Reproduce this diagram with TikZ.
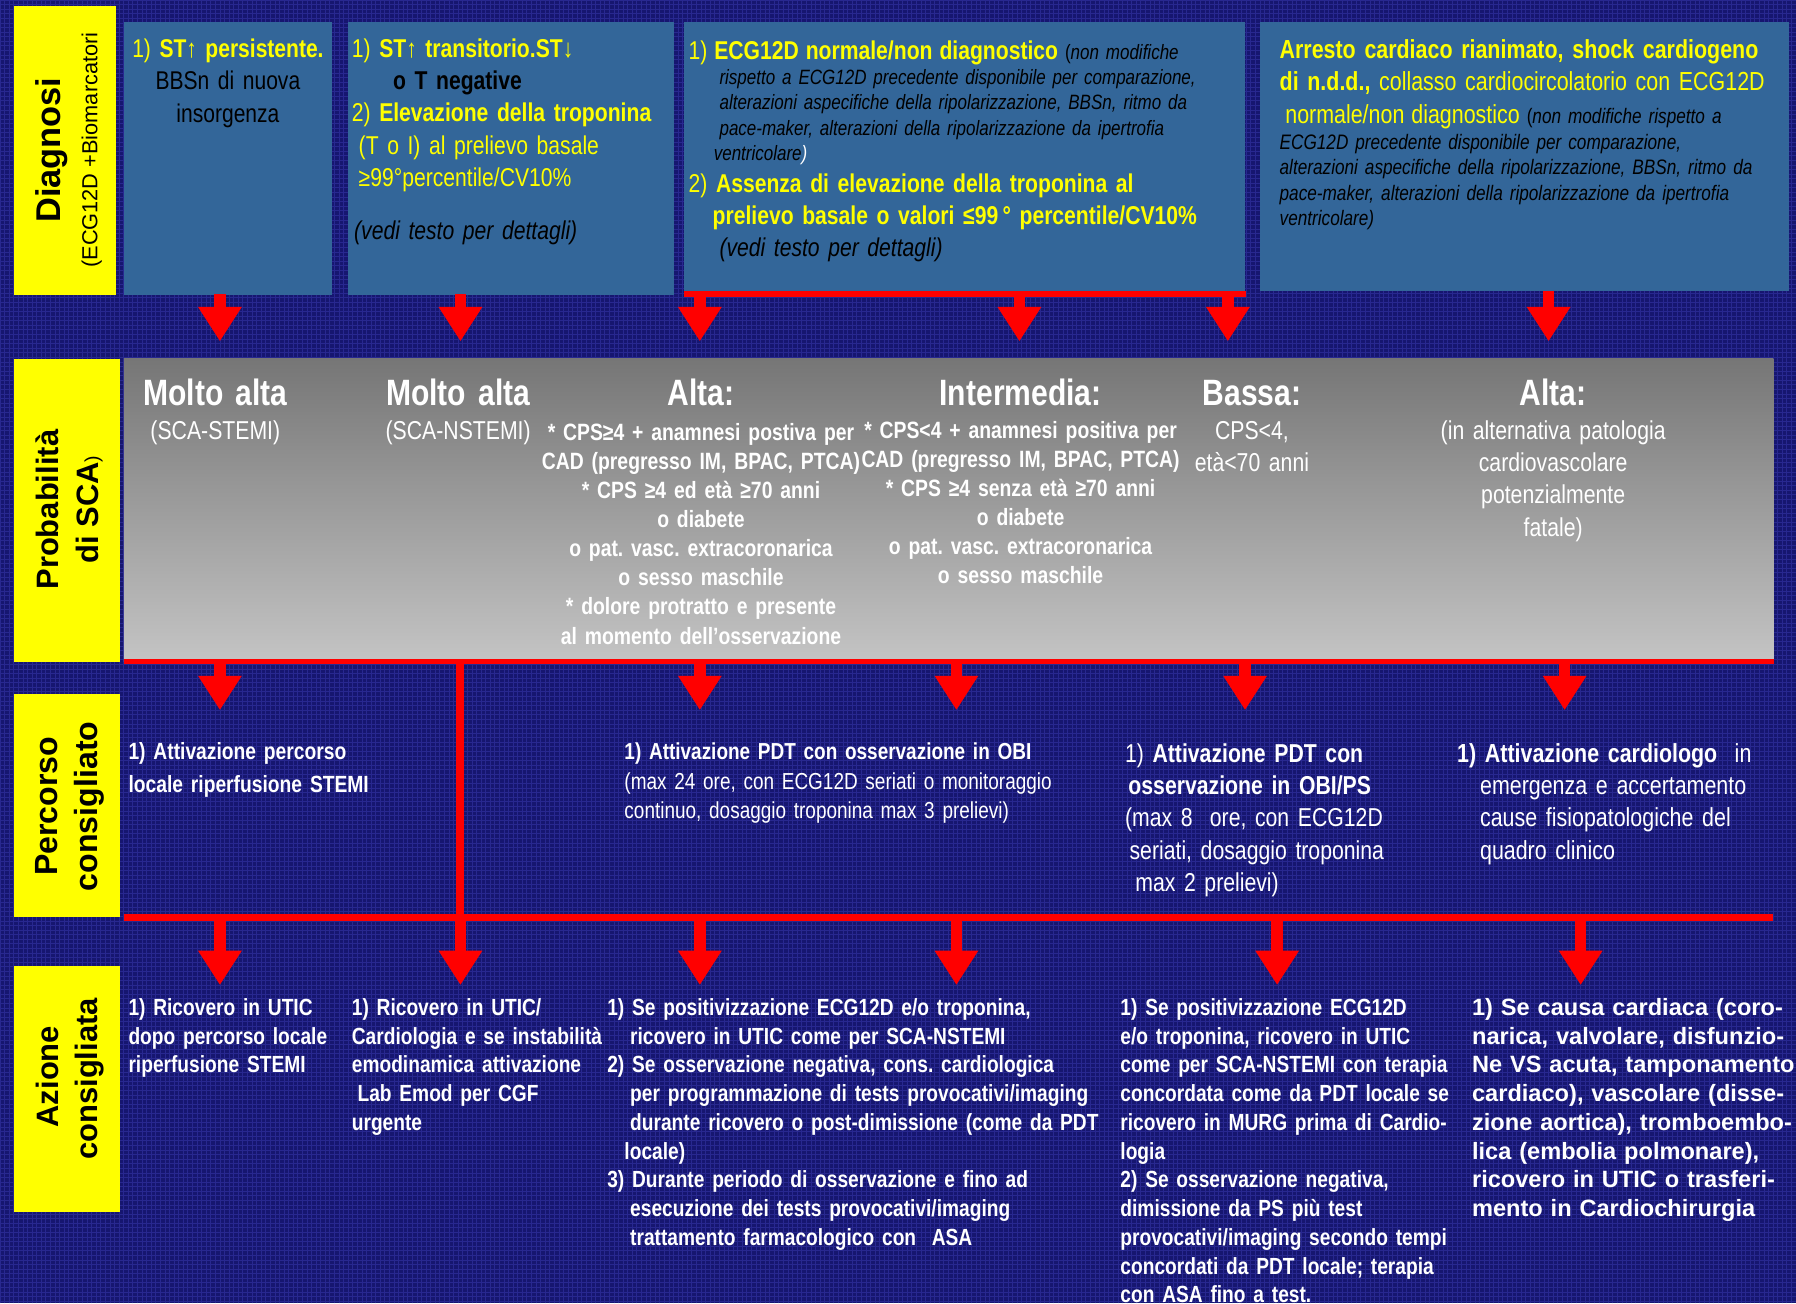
\documentclass[tikz,border=0pt]{standalone}
\usepackage{fontspec}
\setmainfont{Liberation Sans}
\newfontfamily\nf[FakeStretch=0.82,WordSpace=0.8]{Liberation Sans}
\usetikzlibrary{arrows.meta}
\definecolor{bg}{RGB}{22,22,112}
\definecolor{bggrid}{RGB}{40,40,144}
\definecolor{boxblue}{RGB}{51,102,153}
\definecolor{yel}{RGB}{255,255,0}
\definecolor{arr}{RGB}{255,0,0}
\definecolor{grayA}{RGB}{118,118,118}
\definecolor{grayB}{RGB}{196,196,196}
\newcommand{\fsz}[2]{\fontsize{#1pt}{#2pt}\selectfont}
\frenchspacing
\begin{document}
\begin{tikzpicture}[x=1pt,y=-1pt,
  ylabel/.style={fill=yel, inner sep=0, anchor=north west},
  bluebox/.style={fill=boxblue, inner sep=0, anchor=north west},
  vlabel/.style={rotate=90, inner sep=0, text=black},
  tl/.style={anchor=base west, inner sep=0, align=left, text width=620pt},
  tc/.style={anchor=base, inner sep=0, align=center, text width=320pt},
  redarr/.style={draw=arr, line width=10pt, -{Triangle[width=36pt,length=30pt]}},
  redline/.style={draw=arr, line width=6pt},
]
\useasboundingbox (0,0) rectangle (1568,1138);
\fill[bg] (0,0) rectangle (1568,1138);
\draw[bggrid, line width=0.7pt, step=4pt] (0,1138) grid (1568,0);

% yellow labels
\node[ylabel, minimum width=89pt, minimum height=252pt] (ld) at (12,5) {};
\node[ylabel, minimum width=93pt, minimum height=265pt] (lp) at (12,313) {};
\node[ylabel, minimum width=93pt, minimum height=194pt] (lc) at (12,606) {};
\node[ylabel, minimum width=93pt, minimum height=215pt] (la) at (12,843) {};

\node[vlabel, font=\bfseries\fsz{30}{30}] (tdiag) at (45,131) {Diagnosi};
\node[vlabel, font=\fsz{19}{19}] (tdiag2) at (80,131) {(ECG12D +Biomarcatori};
\node[vlabel, font=\bfseries\fsz{27}{27}] (tprob) at (41,445) {Probabilità};
\node[vlabel, font=\bfseries\fsz{27}{27}] (tprob2) at (78,445) {di SCA{\fsz{17}{17}\mdseries)}};
\node[vlabel, font=\bfseries\fsz{28}{28}] (tperc) at (41,704) {Percorso};
\node[vlabel, font=\bfseries\fsz{28}{28}] (tperc2) at (78,704) {consigliato};
\node[vlabel, font=\bfseries\fsz{27}{27}] (taz) at (41,940) {Azione};
\node[vlabel, font=\bfseries\fsz{27}{27}] (taz2) at (78,942) {consigliata};

% blue boxes
\node[bluebox, minimum width=182pt, minimum height=238pt] (b1) at (108,19) {};
\node[bluebox, minimum width=284pt, minimum height=238pt] (b2) at (304,19) {};
\node[bluebox, minimum width=490pt, minimum height=237pt] (b3) at (597,19) {};
\node[bluebox, minimum width=462pt, minimum height=235pt] (b4) at (1100,19) {};
\draw[redline, line width=5pt] (b3.south west) -- (b3.south east);

% gray band
\node[anchor=north west, inner sep=0, minimum width=1440pt, minimum height=264pt,
  top color=grayA, bottom color=grayB] (gb) at (108,313) {};
\draw[redline, line width=5pt] (gb.south west) -- (gb.south east);

% second horizontal line and vertical line
\coordinate (h2l) at (108,801);
\coordinate (h2r) at (1548,801);
\draw[redline] (h2l) -- (h2r);
\coordinate (v1) at (402,577);
\coordinate (v2) at (402,801);
\draw[redline, line width=7pt] (v1) -- (v2);

% arrows row 1
\foreach \n/\x/\y in {1/192/257,2/402/257,3/611/257,4/890/257,5/1072/257,6/1352/254}{
  \coordinate (ta\n) at (\x,\y);
  \coordinate (tb\n) at (\x,298);
  \draw[redarr] (ta\n) -- (tb\n);
}
% arrows row 2
\foreach \n/\x in {1/192,3/611,4/835,5/1087,6/1366}{
  \coordinate (ma\n) at (\x,578);
  \coordinate (mb\n) at (\x,620);
  \draw[redarr] (ma\n) -- (mb\n);
}
% arrows row 3
\foreach \n/\x in {1/192,2/402,3/611,4/835,5/1115,6/1380}{
  \coordinate (la\n) at (\x,801);
  \coordinate (lb\n) at (\x,860);
  \draw[redarr] (la\n) -- (lb\n);
}

% box texts
\node[tc, text width=180pt, font=\nf\fsz{22.4}{28.5}] (t1) at (199,50)
 {\textcolor{yel}{1) \textbf{ST↑ persistente.}}\\BBSn di nuova\\insorgenza};
\node[tl, font=\nf\fsz{22.5}{28.25}] (t2) at (307,50)
 {\textcolor{yel}{1) \textbf{ST↑ transitorio.ST↓}}\\
  \hspace*{36pt}\textbf{o T negative}\\
  \textcolor{yel}{2) \textbf{Elevazione della troponina}}\\
  \hspace*{6pt}\textcolor{yel}{(T o I) al prelievo basale}\\
  \hspace*{6pt}\textcolor{yel}{≥99°percentile/CV10\%}\\[18pt]
  \hspace*{2pt}\textit{(vedi testo per dettagli)}};
\node[tl, font=\nf\fsz{18.1}{22}] (t3a) at (601,52)
 {{\fsz{22.5}{22}\textcolor{yel}{1) \textbf{ECG12D normale/non diagnostico}}} (\textit{non modifiche}\\
  \hspace*{27pt}\textit{rispetto a ECG12D precedente disponibile per comparazione,}\\
  \hspace*{27pt}\textit{alterazioni aspecifiche della ripolarizzazione, BBSn, ritmo da}\\
  \hspace*{27pt}\textit{pace-maker, alterazioni della ripolarizzazione da ipertrofia}\\
  \hspace*{22pt}\textit{ventricolare\textcolor{white}{)}}};
\node[tl, font=\nf\fsz{22.5}{28}, text=yel] (t3b) at (601,168)
 {2) \textbf{Assenza di elevazione della troponina al}\\
  \hspace*{21pt}\textbf{prelievo basale o valori ≤99\,° percentile/CV10\%}};
\node[tl, font=\nf\itshape\fsz{22.5}{28}] (t3c) at (628,224) {(vedi testo per dettagli)};
\node[tl, font=\nf\fsz{22.8}{28}, text=yel] (t4a) at (1117,51)
 {\textbf{Arresto cardiaco rianimato, shock cardiogeno}\\
  \textbf{di n.d.d.,} collasso cardiocircolatorio con ECG12D};
\node[tl, font=\nf\fsz{18.3}{22.3}] (t4b) at (1117,108)
 {\hspace*{5pt}{\fsz{22.8}{22}\textcolor{yel}{normale/non diagnostico}} (\textit{non modifiche rispetto a}\\
  \textit{ECG12D precedente disponibile per comparazione,}\\
  \textit{alterazioni aspecifiche della ripolarizzazione, BBSn, ritmo da}\\
  \textit{pace-maker, alterazioni della ripolarizzazione da ipertrofia}\\
  \textit{ventricolare)}};

% gray band texts
\tikzset{hd/.style={tc, font=\nf\bfseries\fsz{32}{32}, text=white},
         sub/.style={tc, font=\nf\fsz{22.6}{28}, text=white},
         subb/.style={tc, font=\nf\bfseries\fsz{20.6}{25.4}, text=white}}
\node[hd] (h1) at (188,354) {Molto alta};
\node[sub] (h1s) at (188,384) {(SCA-STEMI)};
\node[hd] (h2) at (400,354) {Molto alta};
\node[sub] (h2s) at (400,384) {(SCA-NSTEMI)};
\node[hd] (h3) at (612,354) {Alta:};
\node[subb] (h3s) at (612,384.5)
 {* CPS≥4 + anamnesi postiva per\\{}CAD (pregresso IM, BPAC, PTCA)\\{}* CPS ≥4 ed età ≥70 anni\\{}o diabete\\{}o pat. vasc. extracoronarica\\{}o sesso maschile\\{}* dolore protratto e presente\\{}al momento dell’osservazione};
\node[hd] (h4) at (891,354) {Intermedia:};
\node[subb] (h4s) at (891,382.5)
 {* CPS<4 + anamnesi positiva per\\{}CAD (pregresso IM, BPAC, PTCA)\\{}* CPS ≥4 senza età ≥70 anni\\{}o diabete\\{}o pat. vasc. extracoronarica\\{}o sesso maschile};
\node[hd] (h5) at (1093,354) {Bassa:};
\node[sub] (h5s) at (1093,384) {CPS<4,\\età<70 anni};
\node[hd] (h6) at (1356,354) {Alta:};
\node[sub] (h6s) at (1356,384) {(in alternativa patologia\\cardiovascolare\\potenzialmente\\fatale)};

% percorso texts
\node[tl, font=\nf\bfseries\fsz{20.5}{28}, text=white] (p1) at (112,663.5)
 {1) Attivazione percorso\\locale riperfusione STEMI};
\node[tl, font=\nf\fsz{20.2}{25.5}, text=white] (p3) at (545,663.5)
 {\textbf{1) Attivazione PDT con osservazione in OBI}\\(max 24 ore, con ECG12D seriati o monitoraggio\\continuo, dosaggio troponina max 3 prelievi)};
\node[tl, font=\nf\fsz{22.6}{28}, text=white] (p5) at (982,666)
 {1) \textbf{Attivazione PDT con}\\\hspace*{3pt}\textbf{osservazione in OBI/PS}\\(max 8\ \ ore, con ECG12D\\\hspace*{4pt}seriati, dosaggio troponina\\\hspace*{9pt}max 2 prelievi)};
\node[tl, font=\nf\fsz{22.8}{28}, text=white] (p6) at (1272,666)
 {\textbf{1) Attivazione cardiologo}\ \ in\\\hspace*{20pt}emergenza e accertamento\\\hspace*{20pt}cause fisiopatologiche del\\\hspace*{20pt}quadro clinico};

% azione texts
\tikzset{az/.style={tl, font=\nf\bfseries\fsz{20.4}{25.1}, text=white}}
\node[az] (z1) at (112,886.5) {1) Ricovero in UTIC\\dopo percorso locale\\riperfusione STEMI};
\node[az] (z2) at (307,886.5) {1) Ricovero in UTIC/\\Cardiologia e se instabilità\\emodinamica attivazione\\\hspace*{5pt}Lab Emod per CGF\\urgente};
\node[az] (z3) at (530,886.5)
 {1) Se positivizzazione ECG12D e/o troponina,\\
  \hspace*{20pt}ricovero in UTIC come per SCA-NSTEMI\\
  2) Se osservazione negativa, cons. cardiologica\\
  \hspace*{20pt}per programmazione di tests provocativi/imaging\\
  \hspace*{20pt}durante ricovero o post-dimissione (come da PDT\\
  \hspace*{15pt}locale)\\
  3) Durante periodo di osservazione e fino ad\\
  \hspace*{20pt}esecuzione dei tests provocativi/imaging\\
  \hspace*{20pt}trattamento farmacologico con\ \ ASA};
\node[az] (z4) at (978,886.5)
 {1) Se positivizzazione ECG12D\\e/o troponina, ricovero in UTIC\\come per SCA-NSTEMI con terapia\\concordata come da PDT locale se\\ricovero in MURG prima di Cardio-\\logia\\2) Se osservazione negativa,\\dimissione da PS più test\\provocativi/imaging secondo tempi\\concordati da PDT locale; terapia\\con ASA fino a test.};
\node[tl, font=\bfseries\fsz{20.6}{25.1}, text=white] (z5) at (1285,886.5)
 {1) Se causa cardiaca (coro-\\narica, valvolare, disfunzio-\\Ne VS acuta, tamponamento\\cardiaco), vascolare (disse-\\zione aortica), tromboembo-\\lica (embolia polmonare),\\ricovero in UTIC o trasferi-\\mento in Cardiochirurgia};
\end{tikzpicture}
\end{document}
